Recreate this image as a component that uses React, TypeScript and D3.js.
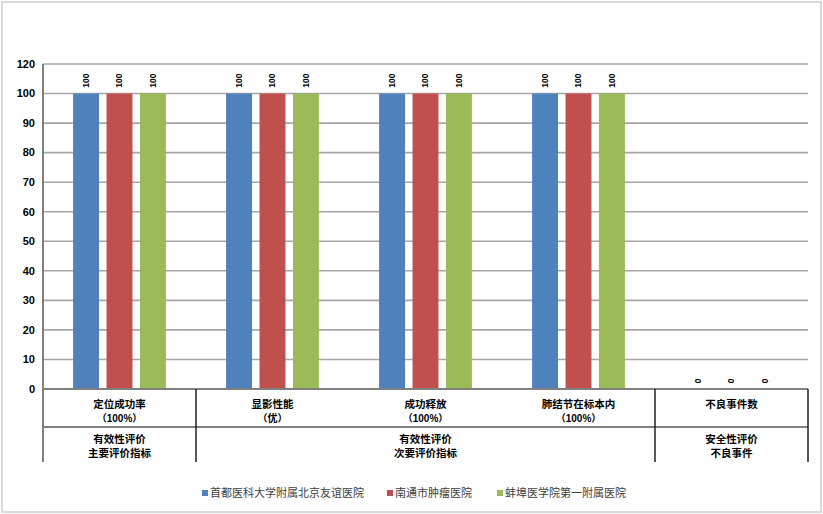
import React from "react";
import * as d3 from "d3";

const categories = ["定位成功率", "显影性能", "成功释放", "肺结节在标本内", "不良事件数"];
const categorySubs = ["（100%）", "（优）", "（100%）", "（100%）", ""];
const groupLabels = [
  ["有效性评价", "主要评价指标"],
  ["有效性评价", "次要评价指标"],
  ["安全性评价", "不良事件"],
];
const groupSpans = [1, 3, 1];
const seriesNames = ["首都医科大学附属北京友谊医院", "南通市肿瘤医院", "蚌埠医学院第一附属医院"];
const seriesA = [100, 100, 100, 100, 0];
const seriesB = [100, 100, 100, 100, 0];
const seriesC = [100, 100, 100, 100, 0];
const colors = ["#4F81BD", "#C0504D", "#9BBB59"];
const yTickValues = [0, 10, 20, 30, 40, 50, 60, 70, 80, 90, 100, 110];
const yTickLabels = ["0", "10", "20", "30", "40", "50", "60", "70", "80", "90", "100", "120"];

const W = 823, H = 514;
const left = 43, right = 808, top = 64, bottom = 389;
const row1 = 427, row2 = 462;
const FONT = "'Liberation Sans', 'Noto Sans CJK SC', sans-serif";

export default function App() {
  const values = [seriesA, seriesB, seriesC];
  const x = d3.scaleBand<string>().domain(categories).range([left, right]).padding(0);
  const xi = d3
    .scaleBand<string>()
    .domain(seriesNames)
    .range([0, x.bandwidth()])
    .paddingInner(0.224)
    .paddingOuter(0.9);
  const y = d3.scaleLinear().domain([0, 110]).range([bottom, top]);

  let acc = 0;
  const groups = groupSpans.map((s, i) => {
    const x0 = x(categories[acc])!;
    const x1 = x(categories[acc + s - 1])! + x.bandwidth();
    acc += s;
    return { x0, x1, label: groupLabels[i] };
  });

  return (
    <svg width={W} height={H} style={{ position: "absolute", left: 0, top: 0 }} fontFamily={FONT}>
      <rect x={0} y={0} width={W} height={H} fill="#fff" />
      <rect x={2} y={2} width={W - 4} height={H - 4} fill="none" stroke="#d9d9d9" strokeWidth={2} />
      {yTickValues.map((v) =>
        v === 0 ? null : (
          <line key={v} x1={left} x2={right} y1={y(v)} y2={y(v)} stroke="#a6a6a6" strokeWidth={1.6} />
        )
      )}
      {yTickValues.map((v, i) => (
        <text
          key={"t" + v}
          x={35}
          y={y(v)}
          dy="0.35em"
          textAnchor="end"
          fontSize={11}
          fontWeight="bold"
          fill="#000"
        >
          {yTickLabels[i]}
        </text>
      ))}
      {values.map((vals, si) =>
        vals.map((v, ci) => {
          const bx = x(categories[ci])! + xi(seriesNames[si])!;
          const bw = xi.bandwidth();
          const cx = bx + bw / 2;
          return (
            <g key={si + "-" + ci}>
              {v > 0 && (
                <rect x={bx} y={y(v)} width={bw} height={bottom - y(v)} fill={colors[si]} />
              )}
              <text
                transform={`translate(${cx},${v > 0 ? y(v) - 13 : y(v) - 8}) rotate(-90)`}
                textAnchor="middle"
                dy="0.35em"
                fontSize={8.5}
                fontWeight="bold"
                fill="#000"
              >
                {v}
              </text>
            </g>
          );
        })
      )}
      <line x1={left} x2={left} y1={top} y2={row2} stroke="#808080" strokeWidth={2} />
      <line x1={left} x2={right} y1={bottom} y2={bottom} stroke="#808080" strokeWidth={2} />
      <line x1={left} x2={right} y1={row1} y2={row1} stroke="#808080" strokeWidth={2} />
      {groups.slice(0, -1).map((g, i) => (
        <line key={"gv" + i} x1={g.x1} x2={g.x1} y1={bottom} y2={row2} stroke="#222" strokeWidth={1.5} />
      ))}
      <line x1={right} x2={right} y1={bottom} y2={row2} stroke="#222" strokeWidth={1.5} />
      {categories.map((c, i) => {
        const cx = x(c)! + x.bandwidth() / 2;
        return (
          <g key={"c" + c}>
            <text x={cx} y={404} dy="0.35em" textAnchor="middle" fontSize={10.5} fontWeight="bold" fill="#000">
              {c}
            </text>
            {categorySubs[i] && (
              <text x={cx} y={418} dy="0.35em" textAnchor="middle" fontSize={10} fontWeight="bold" fill="#000">
                {categorySubs[i]}
              </text>
            )}
          </g>
        );
      })}
      {groups.map((g, i) => (
        <g key={"g" + i}>
          {g.label.map((l, j) => (
            <text
              key={j}
              x={(g.x0 + g.x1) / 2}
              y={439 + j * 14}
              dy="0.35em"
              textAnchor="middle"
              fontSize={10.5}
              fontWeight="bold"
              fill="#000"
            >
              {l}
            </text>
          ))}
        </g>
      ))}
      {(() => {
        const starts = [202, 387, 497];
        return seriesNames.map((n, i) => (
          <g key={"l" + i}>
            <rect x={starts[i]} y={490} width={6} height={6} fill={colors[i]} />
            <text x={starts[i] + 8} y={493} dy="0.35em" fontSize={11} fill="#404040">
              {n}
            </text>
          </g>
        ));
      })()}
    </svg>
  );
}
